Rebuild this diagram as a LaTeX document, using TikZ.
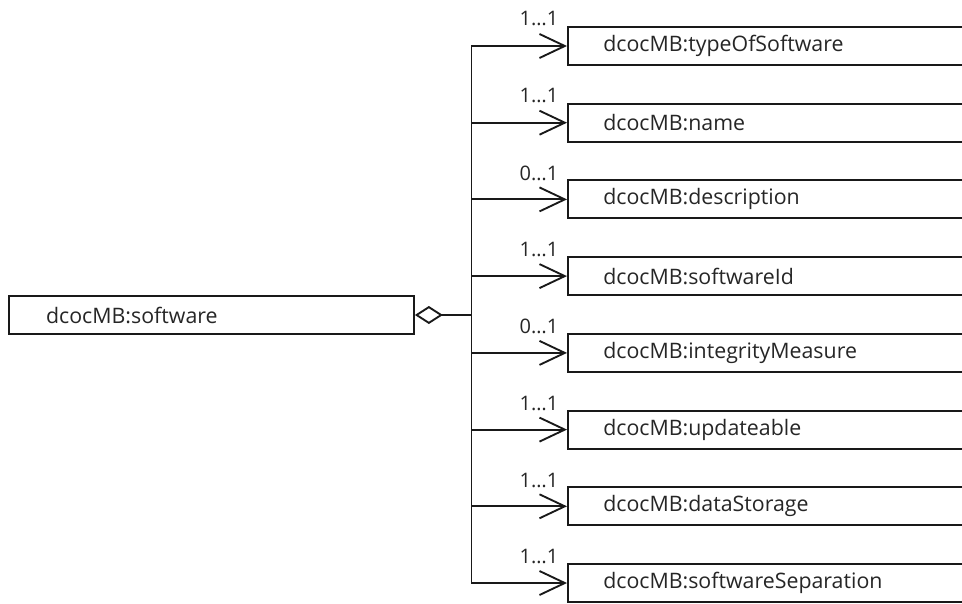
\documentclass[tikz,border=0pt]{standalone}
\usepackage{fontspec}
\setmainfont{Open Sans}
\usetikzlibrary{arrows.meta}
\tikzset{
  px/.style={x=0.75pt,y=-0.75pt},
  umlbox/.style={draw=black!90, line width=1.4pt, fill=white, minimum height=28.5pt,
    inner sep=0pt, font=\fontsize{16}{19}\selectfont, text=black!85},
  classbox/.style={umlbox, anchor=west, minimum width=315pt, text width=262pt,
    inner xsep=26.5pt, align=left},
  rootbox/.style={umlbox, anchor=west, minimum width=303.75pt, text width=248pt,
    inner xsep=27.8pt, align=left},
  conn/.style={draw=black!90, line width=1.4pt,
    -{Straight Barb[length=19pt,width=18pt,line width=1.4pt]}},
  mult/.style={font=\fontsize{15}{18}\selectfont, text=black!85, inner sep=0pt},
  agg/.style={draw=black!90, line width=1.4pt,
    {Diamond[open,length=21pt,width=13.5pt,line width=1.4pt]}-}
}
\begin{document}
\begin{tikzpicture}[px]
  \useasboundingbox (0,0) rectangle (962,603);
  \clip (0,0) rectangle (962,603);
  \fill[white] (0,0) rectangle (962,603);

  % aggregate class
  \node[rootbox] (sw) at (8,315) {dcocMB:software};

  % member classes
  \node[classbox] (b1) at (567,46)    {dcocMB:typeOfSoftware};
  \node[classbox] (b2) at (567,122.7) {dcocMB:name};
  \node[classbox] (b3) at (567,199.4) {dcocMB:description};
  \node[classbox] (b4) at (567,276.1) {dcocMB:softwareId};
  \node[classbox] (b5) at (567,352.9) {dcocMB:integrityMeasure};
  \node[classbox] (b6) at (567,429.6) {dcocMB:updateable};
  \node[classbox] (b7) at (567,506.3) {dcocMB:dataStorage};
  \node[classbox] (b8) at (567,583)   {dcocMB:softwareSeparation};

  % junction on the vertical bus
  \coordinate (jm) at (471.5,315);

  % aggregation line with open diamond
  \draw[agg] (sw.east) -- (jm);

  % bus and branches
  \draw[conn] (jm) |- (b1.west);
  \draw[conn] (jm) |- (b8.west);
  \foreach \i in {2,...,7}{
    \draw[conn] (jm |- b\i.west) -- (b\i.west);
  }

  % multiplicities
  \node[mult] (m1) at (539,19)    {1…1};
  \node[mult] (m2) at (539,96)    {1…1};
  \node[mult] (m3) at (539,173)   {0…1};
  \node[mult] (m4) at (539,249.5) {1…1};
  \node[mult] (m5) at (539,326.5) {0…1};
  \node[mult] (m6) at (539,403)   {1…1};
  \node[mult] (m7) at (539,480)   {1…1};
  \node[mult] (m8) at (539,556.5) {1…1};
\end{tikzpicture}
\end{document}
